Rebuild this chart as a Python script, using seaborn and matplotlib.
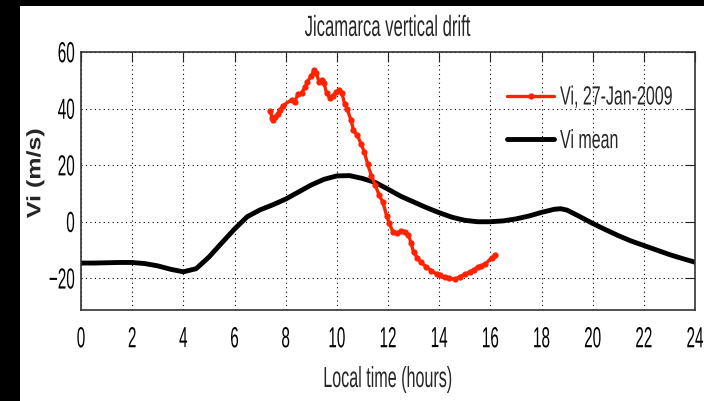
import matplotlib
matplotlib.use("Agg")
import matplotlib.pyplot as plt
import seaborn as sns
from matplotlib.patches import Rectangle
from matplotlib.path import Path
from matplotlib.patheffects import AbstractPathEffect
from matplotlib.transforms import Affine2D

# Mean ion vertical drift over the day (local time, m/s)
mean_hours = [0, 0.5, 1, 1.5, 2, 2.5, 3, 3.5, 4, 4.5, 5, 5.5, 6, 6.5, 7, 7.5,
              8, 8.5, 9, 9.5, 10, 10.5, 11, 11.5, 12, 12.5, 13, 13.5, 14, 14.5,
              15, 15.5, 16, 16.5, 17, 17.5, 18, 18.5, 18.75, 19, 19.5, 20, 20.5,
              21, 21.5, 22, 22.5, 23, 23.5, 24]
mean_vi = [-14.6, -14.6, -14.5, -14.4, -14.4, -14.8, -15.6, -16.8, -17.7, -16.6,
           -12.5, -7.5, -2.6, 1.8, 4.2, 6.0, 8.0, 10.5, 13.0, 15.0, 16.2, 16.3,
           15.3, 13.9, 11.5, 9.0, 7.0, 5.0, 3.2, 1.6, 0.5, 0.0, 0.0, 0.3, 1.0,
           2.0, 3.3, 4.4, 4.6, 4.1, 1.8, -0.6, -2.8, -4.9, -6.8, -8.4, -10.0,
           -11.6, -13.0, -14.3]

# Drift measured on 27 January 2009
day_hours = [7.40, 7.47, 7.52, 7.60, 7.69, 7.78, 7.88, 8.25, 8.35, 8.48, 8.62,
             8.75, 8.85, 9.00, 9.10, 9.20, 9.30, 9.42, 9.50, 9.60, 9.72, 9.85,
             9.98, 10.10, 10.20, 10.30, 10.40, 10.55, 10.65, 10.80, 10.95, 11.08,
             11.20, 11.35, 11.50, 11.65, 11.80, 11.95, 12.05, 12.20, 12.35, 12.50,
             12.65, 12.80, 12.90, 13.00, 13.15, 13.30, 13.50, 13.70, 13.90, 14.05,
             14.23, 14.40, 14.60, 14.80, 15.00, 15.20, 15.35, 15.50, 15.65, 15.80,
             16.05, 16.20]
day_vi = [39.3, 36.5, 35.8, 37.0, 38.1, 39.5, 41.0, 43.2, 42.5, 45.0, 45.5,
          47.5, 49.5, 51.5, 53.5, 52.5, 49.5, 50.0, 49.0, 45.5, 43.8, 44.5,
          45.8, 46.5, 45.5, 41.7, 40.0, 36.0, 32.5, 30.5, 27.5, 24.5,
          20.5, 16.3, 13.0, 9.5, 6.9, 2.0, -0.5, -3.8, -4.0, -3.2,
          -3.5, -4.6, -7.5, -10.8, -12.8, -14.4, -16.0, -17.3, -18.5, -19.0,
          -19.7, -20.0, -20.3, -19.6, -18.5, -17.8, -17.0, -16.1, -15.6, -15.0,
          -12.7, -11.8]

x_ticks = list(range(0, 25, 2))
y_ticks = [-20, 0, 20, 40, 60]

RED = "#ff2200"


class Reshape(AbstractPathEffect):
    """Scale rendered glyphs in display space about a point of their own outline box."""

    def __init__(self, sx=1.0, sy=1.0, h="center", v="center"):
        super().__init__()
        self._sx, self._sy = sx, sy
        self._h, self._v = h, v

    def draw_path(self, renderer, gc, tpath, affine, rgbFace=None):
        verts = tpath.vertices
        if tpath.codes is not None:
            keep = (tpath.codes != Path.CLOSEPOLY) & (tpath.codes != Path.STOP)
            verts = verts[keep]
        if len(verts) == 0:
            renderer.draw_path(gc, tpath, affine, rgbFace)
            return
        pts = affine.transform(verts)
        x0, x1 = pts[:, 0].min(), pts[:, 0].max()
        y0, y1 = pts[:, 1].min(), pts[:, 1].max()
        ax_ = {"left": x0, "right": x1, "center": 0.5 * (x0 + x1)}[self._h]
        ay_ = {"bottom": y0, "top": y1, "center": 0.5 * (y0 + y1)}[self._v]
        warp = (Affine2D().translate(-ax_, -ay_)
                .scale(self._sx, self._sy).translate(ax_, ay_))
        renderer.draw_path(gc, tpath, affine + warp, rgbFace)


sns.set_style("white")
plt.rcParams["font.family"] = ["Liberation Sans", "DejaVu Sans"]

W, H = 704, 402
fig = plt.figure(figsize=(W / 100, H / 100), dpi=100)
fig.patch.set_facecolor("black")
fig.add_artist(Rectangle((20 / W, 0), 1, 395 / H, transform=fig.transFigure,
                         facecolor="white", edgecolor="none", zorder=-10))
ax = fig.add_axes([81 / W, (H - 311) / H, 614 / W, 258 / H])
ax.set_facecolor("white")

sns.lineplot(x=day_hours, y=day_vi, ax=ax, color=RED, lw=2.4, marker="o",
             markersize=4.5, markeredgewidth=0, markeredgecolor=RED,
             label="Vi, 27-Jan-2009", sort=False, zorder=3)
sns.lineplot(x=mean_hours, y=mean_vi, ax=ax, color="black", lw=3.5,
             label="Vi mean", sort=False, zorder=2)

ax.set_xlim(0, 24)
ax.set_ylim(-31.2, 60)
ax.set_xticks(x_ticks)
ax.set_yticks(y_ticks)
ax.grid(True, color="black", linestyle=(0, (1, 3)), linewidth=0.8)
ax.tick_params(direction="in", top=True, right=True, length=7, width=0.8,
               color="#222222", labelsize=11, labelcolor="black")
ax.tick_params(axis="x", pad=12)
ax.tick_params(axis="y", pad=4.5)
for s in ax.spines.values():
    s.set_visible(True)
    s.set_color("#333333")
    s.set_linewidth(1.2)

ax.set_title("Jicamarca vertical drift", fontsize=12, pad=11.5)
ax.set_xlabel("Local time (hours)", fontsize=11.6, labelpad=18)
ax.set_ylabel("Vi (m/s)", fontsize=18, fontweight="bold")
ax.yaxis.set_label_coords(-0.0558, 0.53)

leg = ax.legend(loc="upper left", bbox_to_anchor=(0.694, 0.855), frameon=False,
                fontsize=11.5, handlelength=2.94, handletextpad=0.375,
                labelspacing=1.75, borderpad=0, borderaxespad=0)

fig.canvas.draw()
for t in ax.xaxis.get_major_ticks():
    t.label1.set_path_effects([Reshape(1.0, 1.9, "center", "top")])
for t in ax.yaxis.get_major_ticks():
    t.label1.set_path_effects([Reshape(1.0, 1.9, "right", "center")])
ax.title.set_path_effects([Reshape(1.0, 1.75, "center", "bottom")])
ax.xaxis.label.set_path_effects([Reshape(1.0, 1.8, "center", "top")])
ax.yaxis.label.set_path_effects([Reshape(0.78, 1.0, "center", "center")])
for t in leg.get_texts():
    t.set_path_effects([Reshape(1.0, 1.65, "left", "center")])

fig.savefig("out.png", dpi=100, facecolor=fig.get_facecolor())
